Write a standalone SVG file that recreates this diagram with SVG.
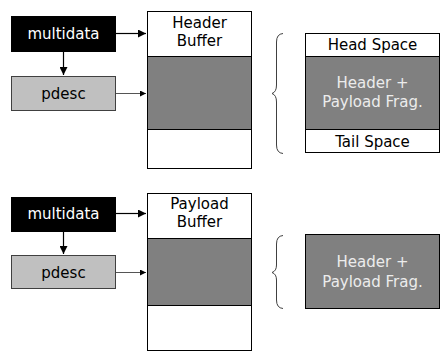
<svg xmlns="http://www.w3.org/2000/svg" width="440" height="354" viewBox="0 0 440 354">
<defs>
<style>
text{font-family:"DejaVu Sans","Liberation Sans",sans-serif;font-size:15px;text-anchor:middle}
.md{fill:#000;stroke:#000;stroke-width:1}
.mdt{fill:#fff}
.pd{fill:#c0c0c0;stroke:#404040;stroke-width:1}
.wh{fill:#fff;stroke:#000;stroke-width:1}
.gr{fill:#808080;stroke:#000;stroke-width:1}
.grt{fill:#ececec}
.bk{fill:#000}
.con{stroke:#000;stroke-width:1.2;fill:none}
.con2{stroke:#555;stroke-width:1;fill:none}
.brace{stroke:#404040;stroke-width:1;fill:none}
</style>
<marker id="ah" viewBox="0 0 10 10" refX="10" refY="5" markerWidth="8" markerHeight="8" markerUnits="userSpaceOnUse" orient="auto"><path d="M0,0L10,5L0,10z" fill="#000"/></marker>
<marker id="ah2" viewBox="0 0 10 10" refX="10" refY="5" markerWidth="6" markerHeight="6" markerUnits="userSpaceOnUse" orient="auto"><path d="M0,0L10,5L0,10z" fill="#000"/></marker>
</defs>
<g id="connectors">
<line class="con" x1="116" y1="33.5" x2="146" y2="33.5" marker-end="url(#ah)"/>
<line class="con" x1="63.5" y1="52" x2="63.5" y2="75" marker-end="url(#ah)"/>
<line class="con2" x1="116" y1="93.5" x2="146" y2="93.5" marker-end="url(#ah2)"/>
<line class="con" x1="116" y1="213.5" x2="146" y2="213.5" marker-end="url(#ah)"/>
<line class="con" x1="63.5" y1="232" x2="63.5" y2="254" marker-end="url(#ah)"/>
<line class="con2" x1="116" y1="272.5" x2="146" y2="272.5" marker-end="url(#ah2)"/>
</g>
<g id="multidata1"><rect class="md" x="11.5" y="16.5" width="104" height="35"/><text class="mdt" x="63.5" y="39">multidata</text></g>
<g id="pdesc1"><rect class="pd" x="11.5" y="76.5" width="104" height="34"/><text class="bk" x="63.5" y="99">pdesc</text></g>
<g id="headerBuffer">
<rect class="wh" x="147.5" y="11.5" width="104" height="157"/>
<rect class="gr" x="147.5" y="56.5" width="104" height="73"/>
<text class="bk" x="199.5" y="28">Header</text>
<text class="bk" x="199.5" y="46">Buffer</text>
</g>
<g id="brace1"><path class="brace" d="M283,33.5 Q276.5,34 276.5,42 L276.5,85 Q276.5,92 272,93.5 Q276.5,95 276.5,102 L276.5,145 Q276.5,153 283,153.5"/></g>
<g id="frag1">
<rect class="wh" x="305.5" y="33.5" width="134" height="119"/>
<rect class="gr" x="305.5" y="56.5" width="134" height="73"/>
<text class="bk" x="372.5" y="50">Head Space</text>
<text class="grt" x="372.5" y="88">Header +</text>
<text class="grt" x="372.5" y="107">Payload Frag.</text>
<text class="bk" x="372.5" y="147">Tail Space</text>
</g>
<g id="multidata2"><rect class="md" x="11.5" y="197.5" width="104" height="34"/><text class="mdt" x="63.5" y="219">multidata</text></g>
<g id="pdesc2"><rect class="pd" x="11.5" y="255.5" width="104" height="33"/><text class="bk" x="63.5" y="278">pdesc</text></g>
<g id="payloadBuffer">
<rect class="wh" x="147.5" y="193.5" width="104" height="157"/>
<rect class="gr" x="147.5" y="238.5" width="104" height="67"/>
<text class="bk" x="199.5" y="209">Payload</text>
<text class="bk" x="199.5" y="227">Buffer</text>
</g>
<g id="brace2"><path class="brace" d="M283,235.5 Q276.5,236 276.5,244 L276.5,265 Q276.5,271 272,272.5 Q276.5,274 276.5,280 L276.5,300 Q276.5,308 283,308.5"/></g>
<g id="frag2">
<rect class="gr" x="305.5" y="234.5" width="134" height="74"/>
<text class="grt" x="372.5" y="267">Header +</text>
<text class="grt" x="372.5" y="287">Payload Frag.</text>
</g>
</svg>
